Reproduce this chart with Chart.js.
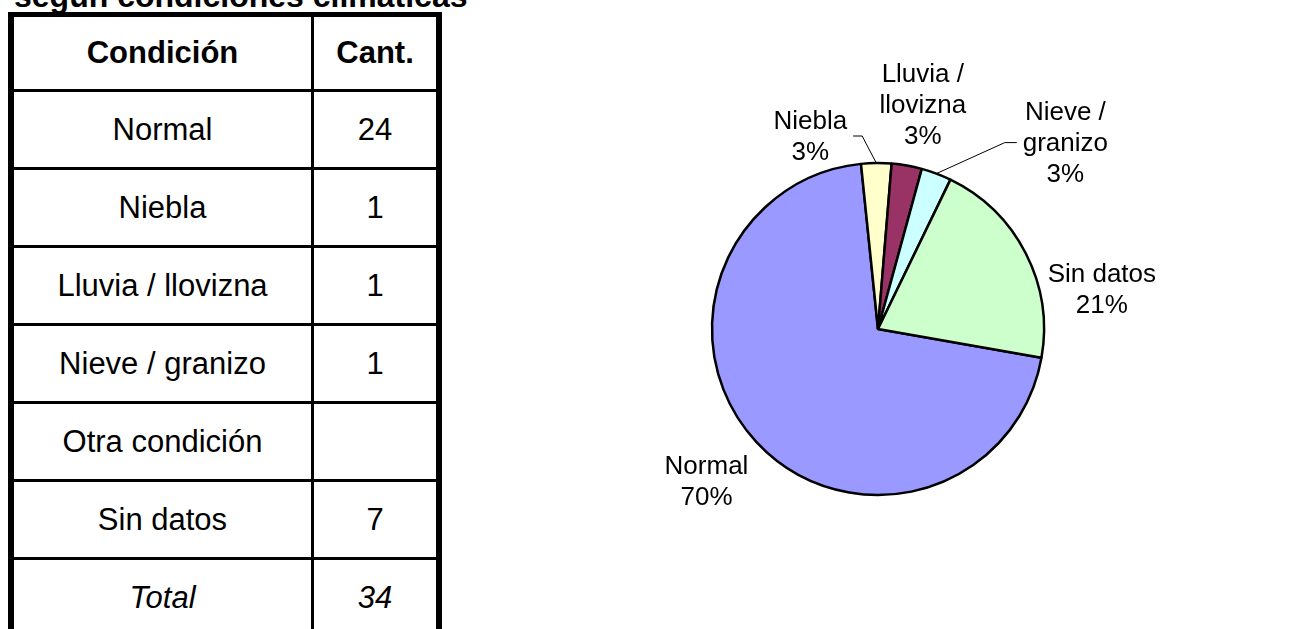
<!DOCTYPE html>
<html>
<head>
<meta charset="utf-8">
<script src="https://cdn.jsdelivr.net/npm/chart.js@4"></script>
<style>
  html, body { margin: 0; padding: 0; background: #fff; }
  body { width: 1307px; height: 629px; position: relative; overflow: hidden; font-family: "Liberation Sans", Arial, sans-serif; }
  #title { position: absolute; left: 14px; top: -20px; font-size: 32px; font-weight: bold; line-height: 32px; white-space: nowrap; }
  #tbl { position: absolute; left: 8px; top: 12px; border-collapse: collapse; }
  #tbl td { border: 3px solid #000; text-align: center; font-size: 31px; padding: 0; height: 75px; }
  #tbl tr:first-child td { font-weight: bold; height: 72px; }
  #tbl td.c1 { width: 297px; border-left-width: 6px; }
  #tbl td.c2 { width: 122px; border-right-width: 6px; }
  #tbl tr:first-child td { border-top-width: 5px; }
  #tbl tr.total td { font-style: italic; }
  #wrap { position: absolute; left: 460px; top: 0; width: 847px; height: 629px; }
</style>
</head>
<body>
<div id="title">según condiciones climáticas</div>
<table id="tbl"></table>
<div id="wrap"><canvas id="pieChart"></canvas></div>
<script>
// data
const categories = ['Normal', 'Niebla', 'Lluvia / llovizna', 'Nieve / granizo', 'Otra condición', 'Sin datos'];
const counts = [24, 1, 1, 1, null, 7];
const totalLabel = 'Total';
const totalCount = 34;
const pieLabels = [['Normal'], ['Niebla'], ['Lluvia /', 'llovizna'], ['Nieve /', 'granizo'], [], ['Sin datos']];
const pctLabels = ['70%', '3%', '3%', '3%', '', '21%'];
const colors = ['#9999FF', '#FFFFCC', '#993366', '#CCFFFF', '#660066', '#CCFFCC'];

// label placement: offset from the slice's outer mid point, and leader line side
const labelOffsets = [[-50, 40], [-66, -26], [16, -60], [129, -30], [0, 0], [76, 37]];
const leaders = [null, 'right', null, 'left', null, null];

// Build the table
function buildTable() {
    const tbl = document.getElementById('tbl');
    let html = '<tr><td class="c1">Condición</td><td class="c2">Cant.</td></tr>';
    categories.forEach((c, i) => {
        html += `<tr><td class="c1">${c}</td><td class="c2">${counts[i] == null ? '' : counts[i]}</td></tr>`;
    });
    html += `<tr class="total"><td class="c1">${totalLabel}</td><td class="c2">${totalCount}</td></tr>`;
    tbl.innerHTML = html;
}

// Labels outside the pie, Excel style
const outsideLabels = {
    id: 'outsideLabels',
    afterDraw(chart) {
        const ctx = chart.ctx;
        const meta = chart.getDatasetMeta(0);
        ctx.save();
        ctx.font = '26px "Liberation Sans", Arial, sans-serif';
        ctx.fillStyle = '#000';
        ctx.textAlign = 'center';
        ctx.textBaseline = 'middle';
        const lineH = 31;
        meta.data.forEach((arc, i) => {
            if (!pctLabels[i]) return;
            const mid = (arc.startAngle + arc.endAngle) / 2;
            const ax = arc.x + Math.cos(mid) * arc.outerRadius;
            const ay = arc.y + Math.sin(mid) * arc.outerRadius;
            const lx = ax + labelOffsets[i][0];
            const ly = ay + labelOffsets[i][1];
            const lines = pieLabels[i].concat([pctLabels[i]]);
            const top = ly - (lines.length - 1) * lineH / 2;
            lines.forEach((t, k) => ctx.fillText(t, lx, top + k * lineH));
            if (leaders[i]) {
                let w = 0;
                lines.forEach(t => { w = Math.max(w, ctx.measureText(t).width); });
                ctx.strokeStyle = '#000';
                ctx.lineWidth = 1;
                ctx.beginPath();
                const ey = top + lineH * (leaders[i] === 'right' ? 0.5 : 1) - 1;
                if (leaders[i] === 'right') {
                    const ex = lx + w / 2 + 6;
                    ctx.moveTo(ex, ey);
                    ctx.lineTo(ex + 9, ey);
                    ctx.lineTo(ax, ay);
                } else {
                    const ex = lx - w / 2 - 6;
                    ctx.moveTo(ex, ey);
                    ctx.lineTo(ex - 12, ey);
                    ctx.lineTo(ax, ay);
                }
                ctx.stroke();
            }
        });
        ctx.restore();
    }
};

function initChart() {
    const ctx = document.getElementById('pieChart').getContext('2d');
    new Chart(ctx, {
        type: 'pie',
        data: {
            labels: categories,
            datasets: [{
                data: counts.map(v => v == null ? 0 : v),
                backgroundColor: colors,
                borderColor: '#000',
                borderWidth: 2.5,
                radius: 166
            }]
        },
        options: {
            responsive: false,
            animation: false,
            rotation: 100,
            layout: { padding: { left: 0, right: 11, top: 29, bottom: 0 } },
            plugins: {
                legend: { display: false },
                tooltip: { enabled: false }
            }
        },
        plugins: [outsideLabels]
    });
}

const cv = document.getElementById('pieChart');
cv.width = 847;
cv.height = 629;
buildTable();
initChart();
</script>
</body>
</html>
